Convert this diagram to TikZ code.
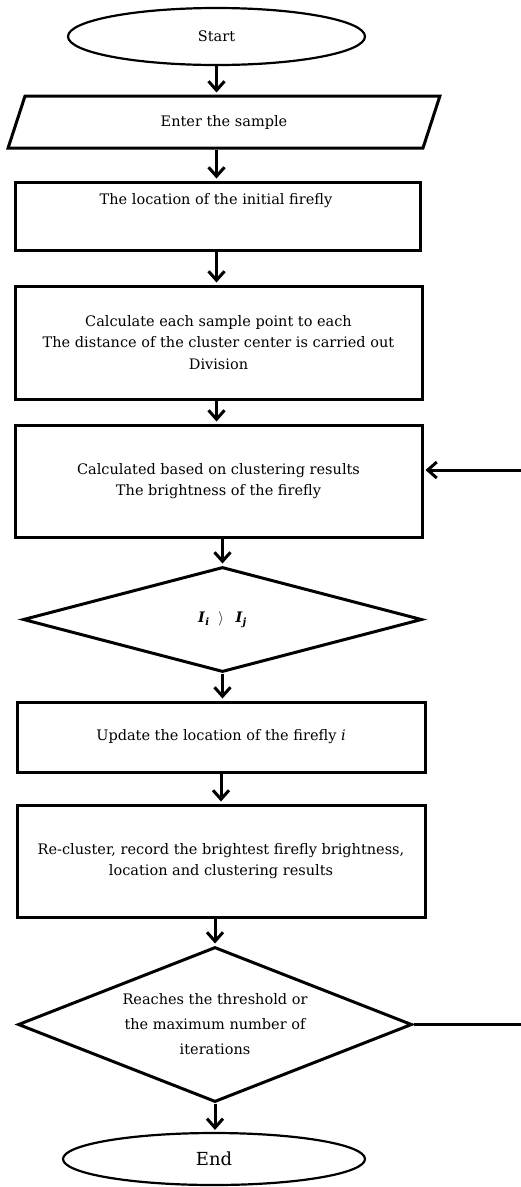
\documentclass[tikz,border=0pt]{standalone}
\usepackage{fontspec}
\setmainfont{DejaVu Serif}
\usetikzlibrary{shapes.geometric,arrows.meta}
\newcommand{\bivar}[2]{\textbf{\textit{#1}}\textsubscript{\textbf{\textit{#2}}}}
\begin{document}
\begin{tikzpicture}[x=1pt,y=-1pt,
  every node/.style={font=\fontsize{14.5}{21.5}\selectfont},
  box/.style={draw, line width=3pt, rectangle, inner sep=0pt, align=center},
  term/.style={draw, line width=2.2pt, ellipse, inner sep=0pt},
  dec/.style={draw, line width=3pt, diamond, inner sep=0pt, align=center},
  arr/.style={line width=3pt, shorten >=2pt, -{Straight Barb[length=9pt,width=16pt,line width=3pt]}},
  link/.style={line width=3pt}]
\useasboundingbox (0,0) rectangle (521,1187);

\node[term, minimum width=297pt, minimum height=57pt] (start) at (216.5,36.5) {Start};
\node[draw, trapezium, trapezium left angle=69, trapezium right angle=111,
      trapezium stretches=true, minimum width=432pt, minimum height=52pt,
      line width=3pt, inner sep=0pt] (inp) at (224,122) {Enter the sample};
\node[box, minimum width=405pt, minimum height=68pt] (b1) at (217.5,216) {};
\node (b1t) at (216,201) {The location of the initial firefly};
\node[box, minimum width=407pt, minimum height=113pt] (b2) at (218.5,342.5)
  {Calculate each sample point to each\\The distance of the cluster center is carried out\\Division};
\node[box, minimum width=407pt, minimum height=112pt] (b3) at (218.5,481)
  {Calculated based on clustering results\\The brightness of the firefly};
\node[dec, minimum width=399pt, minimum height=105pt, shape aspect=3.8] (d1) at (222.5,619.5)
  {\bivar{I}{i}\hspace{0.6em}$\rangle$\hspace{0.8em}\bivar{I}{j}};
\node[box, minimum width=408pt, minimum height=70pt] (b4) at (221,737)
  {Update the location of the firefly \textit{i}};
\node[box, minimum width=408pt, minimum height=112pt] (b5) at (221,861)
  {Re-cluster, record the brightest firefly brightness,\\location and clustering results};
\node[dec, minimum width=394pt, minimum height=155pt, shape aspect=2.54,
      font=\fontsize{14.5}{25}\selectfont] (d2) at (215,1024.5)
  {Reaches the threshold or\\the maximum number of\\iterations};
\node[term, minimum width=302pt, minimum height=52pt, font=\fontsize{18}{22}\selectfont] (end) at (214,1159) {End};

\coordinate (fbA) at (521,1024.5);
\coordinate (fbB) at (521,470);

\draw[arr] (start.south) -- (start.south |- inp.north);
\draw[arr] (inp.south -| start.south) -- (start.south |- b1.north);
\draw[arr] (b1.south -| start.south) -- (start.south |- b2.north);
\draw[arr] (b2.south -| start.south) -- (start.south |- b3.north);
\draw[arr] (b3.south -| d1.north) -- (d1.north);
\draw[arr] (d1.south) -- (d1.south |- b4.north);
\draw[arr] (b4.south) -- (b5.north);
\draw[arr] (b5.south -| d2.north) -- (d2.north);
\draw[arr] (d2.south) -- (d2.south |- end.north);
\draw[link] (d2.east) -- (fbA);
\draw[arr] (fbB) -- (fbB -| b3.east);
\end{tikzpicture}
\end{document}
